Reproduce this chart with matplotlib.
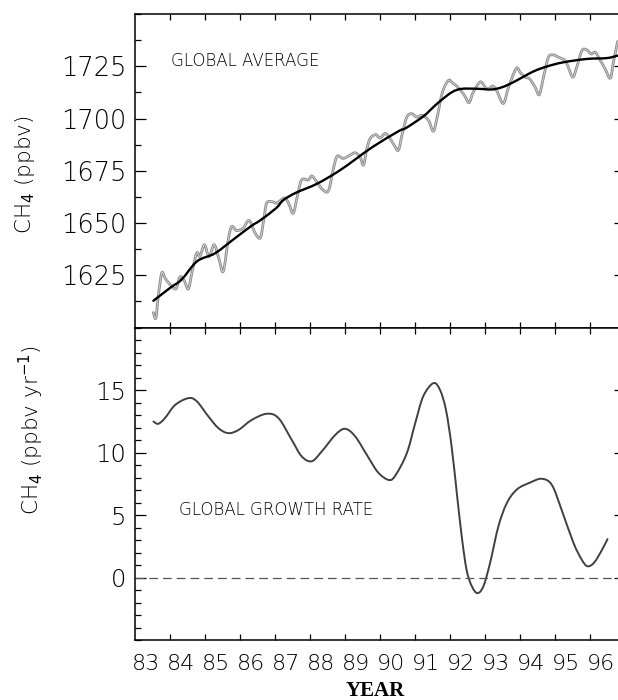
import matplotlib
matplotlib.use("Agg")
import matplotlib.pyplot as plt
from matplotlib.path import Path
from matplotlib.patches import PathPatch
from matplotlib.ticker import FixedLocator, NullFormatter

plt.rcParams["font.family"] = "DejaVu Sans"
plt.rcParams["mathtext.fontset"] = "dejavusans"

# ---- data ----
# monthly global average CH4 (ppbv)
avg_year = [1983.52, 1983.59, 1983.66, 1983.76, 1983.85, 1983.95, 1984.16, 1984.28,
            1984.40, 1984.52, 1984.63, 1984.76, 1984.85, 1984.98, 1985.11, 1985.26,
            1985.40, 1985.52, 1985.66, 1985.76, 1985.90, 1986.09, 1986.26, 1986.43,
            1986.58, 1986.68, 1986.76, 1986.91, 1987.05, 1987.17, 1987.29, 1987.40,
            1987.52, 1987.64, 1987.76, 1987.95, 1988.05, 1988.19, 1988.36, 1988.53,
            1988.67, 1988.78, 1988.95, 1989.15, 1989.29, 1989.43, 1989.53, 1989.62,
            1989.72, 1989.88, 1990.00, 1990.15, 1990.26, 1990.41, 1990.53, 1990.64,
            1990.77, 1990.91, 1991.05, 1991.21, 1991.39, 1991.53, 1991.63, 1991.79,
            1991.96, 1992.07, 1992.23, 1992.42, 1992.55, 1992.67, 1992.87, 1993.01,
            1993.10, 1993.23, 1993.34, 1993.53, 1993.68, 1993.90, 1994.01, 1994.15,
            1994.28, 1994.44, 1994.56, 1994.68, 1994.82, 1994.96, 1995.11, 1995.30,
            1995.39, 1995.52, 1995.63, 1995.78, 1995.92, 1996.04, 1996.16, 1996.28,
            1996.44, 1996.59, 1996.68, 1996.80]
avg_ch4 = [1607.1, 1604.5, 1615.0, 1626.1, 1623.8, 1621.5, 1618.5, 1624.2,
           1622.5, 1618.5, 1626.9, 1635.7, 1634.0, 1639.6, 1634.0, 1639.6,
           1632.5, 1626.9, 1642.0, 1648.3, 1646.4, 1647.6, 1651.2, 1645.2,
           1643.0, 1652.0, 1659.5, 1660.2, 1659.5, 1661.0, 1661.9, 1659.0,
           1654.7, 1663.0, 1670.6, 1670.6, 1672.5, 1669.8, 1666.0, 1665.5,
           1676.1, 1682.0, 1680.9, 1682.5, 1683.6, 1681.7, 1677.7, 1685.0,
           1690.4, 1692.3, 1690.7, 1692.8, 1691.2, 1687.2, 1684.9, 1692.8,
           1700.7, 1702.3, 1700.7, 1701.5, 1699.1, 1693.9, 1700.0, 1712.6,
           1718.2, 1717.1, 1715.0, 1711.0, 1707.6, 1712.6, 1717.5, 1715.0,
           1714.2, 1715.5, 1713.4, 1707.2, 1715.0, 1724.0, 1722.1, 1719.8,
           1719.0, 1715.0, 1711.4, 1719.8, 1729.3, 1730.4, 1729.3, 1727.7,
           1724.5, 1719.8, 1724.5, 1732.5, 1732.8, 1730.9, 1731.7, 1728.5,
           1723.8, 1719.3, 1727.0, 1736.8]

# deseasonalised trend
trend_year = [1983.52, 1984.00, 1984.33, 1984.77, 1985.28, 1985.86, 1986.33, 1986.57,
              1987.03, 1987.24, 1987.60, 1988.19, 1988.79, 1989.30, 1989.80, 1990.53,
              1990.75, 1991.24, 1991.50, 1991.72, 1992.06, 1992.34, 1992.82, 1993.20,
              1993.50, 1993.82, 1994.39, 1994.80, 1995.25, 1995.92, 1996.49, 1996.80]
trend_ch4 = [1612.8, 1619.0, 1623.0, 1631.7, 1635.5, 1642.8, 1648.7, 1651.2,
             1657.1, 1661.0, 1664.5, 1668.7, 1674.5, 1680.5, 1686.5, 1693.9,
             1695.5, 1701.0, 1705.0, 1708.3, 1712.6, 1714.2, 1714.2, 1713.9,
             1715.0, 1717.4, 1722.5, 1725.0, 1726.9, 1728.5, 1728.9, 1730.1]

# growth rate (ppbv/yr)
rate_year = [1983.52, 1983.66, 1983.85, 1984.14, 1984.52, 1984.76, 1985.09, 1985.38,
             1985.66, 1985.95, 1986.33, 1986.76, 1987.10, 1987.48, 1987.76, 1988.05,
             1988.34, 1988.72, 1989.00, 1989.29, 1989.65, 1989.95, 1990.26, 1990.45,
             1990.77, 1991.01, 1991.24, 1991.53, 1991.72, 1991.89, 1992.05, 1992.20,
             1992.34, 1992.48, 1992.63, 1992.79, 1992.96, 1993.15, 1993.39, 1993.63,
             1993.92, 1994.30, 1994.63, 1994.92, 1995.20, 1995.54, 1995.78, 1995.94,
             1996.13, 1996.35, 1996.51]
rate_val = [12.48, 12.30, 12.75, 13.80, 14.35, 14.10, 12.90, 11.95,
            11.55, 11.80, 12.60, 13.10, 12.75, 11.00, 9.70, 9.30,
            10.10, 11.40, 11.90, 11.30, 9.70, 8.40, 7.80, 8.20,
            9.95, 12.35, 14.50, 15.55, 15.00, 13.40, 10.50, 6.75,
            3.30, 0.60, -0.70, -1.25, -0.70, 1.15, 4.10, 5.95,
            7.05, 7.60, 7.90, 7.40, 5.40, 2.75, 1.40, 0.90,
            1.20, 2.20, 3.07]

years = list(range(1983, 1998))
year_labels = ["83", "84", "85", "86", "87", "88", "89", "90",
               "91", "92", "93", "94", "95", "96"]

LIGHT = "light"


def smooth_line(ax, xs, ys, **kw):
    """Draw the read points as one smooth Bezier path (Catmull-Rom)."""
    pts = list(zip(xs, ys))
    verts = [pts[0]]
    codes = [Path.MOVETO]
    n = len(pts)
    for i in range(n - 1):
        p0 = pts[max(i - 1, 0)]
        p1 = pts[i]
        p2 = pts[i + 1]
        p3 = pts[min(i + 2, n - 1)]
        c1 = (p1[0] + (p2[0] - p0[0]) / 6, p1[1] + (p2[1] - p0[1]) / 6)
        c2 = (p2[0] - (p3[0] - p1[0]) / 6, p2[1] - (p3[1] - p1[1]) / 6)
        verts += [c1, c2, p2]
        codes += [Path.CURVE4] * 3
    ax.add_patch(PathPatch(Path(verts, codes), fill=False, capstyle="round",
                           joinstyle="round", **kw))


fig = plt.figure(figsize=(6.18, 7.0), dpi=100)
ax1 = fig.add_axes([0.2188, 0.5321, 0.7919, 0.98 - 0.5321])
ax2 = fig.add_axes([0.2188, 0.0857, 0.7919, 0.5321 - 0.0857])

# top panel
smooth_line(ax1, avg_year, avg_ch4, edgecolor="#8c8c8c", lw=2.0)
smooth_line(ax1, avg_year, avg_ch4, edgecolor="#d4d4d4", lw=0.6)
smooth_line(ax1, trend_year, trend_ch4, edgecolor="black", lw=1.7)
ax1.set_ylim(1600, 1750)
ax1.yaxis.set_major_locator(FixedLocator([1625, 1650, 1675, 1700, 1725]))
ax1.yaxis.set_minor_locator(FixedLocator([1600 + 12.5 * i for i in range(13)]))
ax1.text(1984.02, 1727.7, "GLOBAL AVERAGE", fontsize=12, fontweight=LIGHT,
         ha="left", va="center")

# bottom panel
smooth_line(ax2, rate_year, rate_val, edgecolor="#404040", lw=1.4)
ax2.axhline(0, color="#555555", lw=0.9, ls=(0, (7, 4)))
ax2.set_ylim(-5, 20)
ax2.yaxis.set_major_locator(FixedLocator([0, 5, 10, 15]))
ax2.yaxis.set_minor_locator(FixedLocator(list(range(-5, 21))))
ax2.text(1984.25, 5.42, "GLOBAL GROWTH RATE", fontsize=12, fontweight=LIGHT,
         ha="left", va="center")

for ax in (ax1, ax2):
    ax.set_xlim(1983, 1997)
    ax.xaxis.set_major_locator(FixedLocator(years[1:-1]))
    ax.xaxis.set_major_formatter(NullFormatter())
    ax.xaxis.set_minor_locator(FixedLocator([y + 0.32 for y in years[:-1]]))
    for s in ax.spines.values():
        s.set_linewidth(1.1)
    ax.tick_params(axis="x", which="major", direction="in", top=True, bottom=True,
                   length=4.5, width=0.9)
    ax.tick_params(axis="x", which="minor", length=0)
    ax.tick_params(axis="y", which="major", direction="in", left=True, right=True,
                   length=8, width=0.9, pad=6.5)
    ax.tick_params(axis="y", which="minor", direction="in", left=True, right=False,
                   length=4, width=0.9)

ax1.xaxis.set_minor_formatter(NullFormatter())
ax2.xaxis.set_minor_formatter(plt.FixedFormatter(year_labels))

for lab in ax1.get_yticklabels():
    lab.set_fontsize(18.5)
    lab.set_fontweight(LIGHT)
for lab in ax2.get_yticklabels():
    lab.set_fontsize(17.5)
    lab.set_fontweight(LIGHT)
ax2.tick_params(axis="x", which="minor", pad=10)
for lab in ax2.get_xticklabels(minor=True):
    lab.set_fontsize(16)
    lab.set_fontweight(LIGHT)

fig.text(0.0405, 0.75, "CH$_4$ (ppbv)", rotation=90, ha="center", va="center",
         fontsize=15.5, fontweight=LIGHT)
fig.text(0.050, 0.386, "CH$_4$ (ppbv yr$^{-1}$)", rotation=90, ha="center",
         va="center", fontsize=15.5, fontweight=LIGHT)
fig.text(0.607, 0.0135, "YEAR", ha="center", va="center", fontsize=15,
         fontweight="bold", family="Liberation Serif")

fig.savefig("out.png", dpi=100, facecolor="white")
